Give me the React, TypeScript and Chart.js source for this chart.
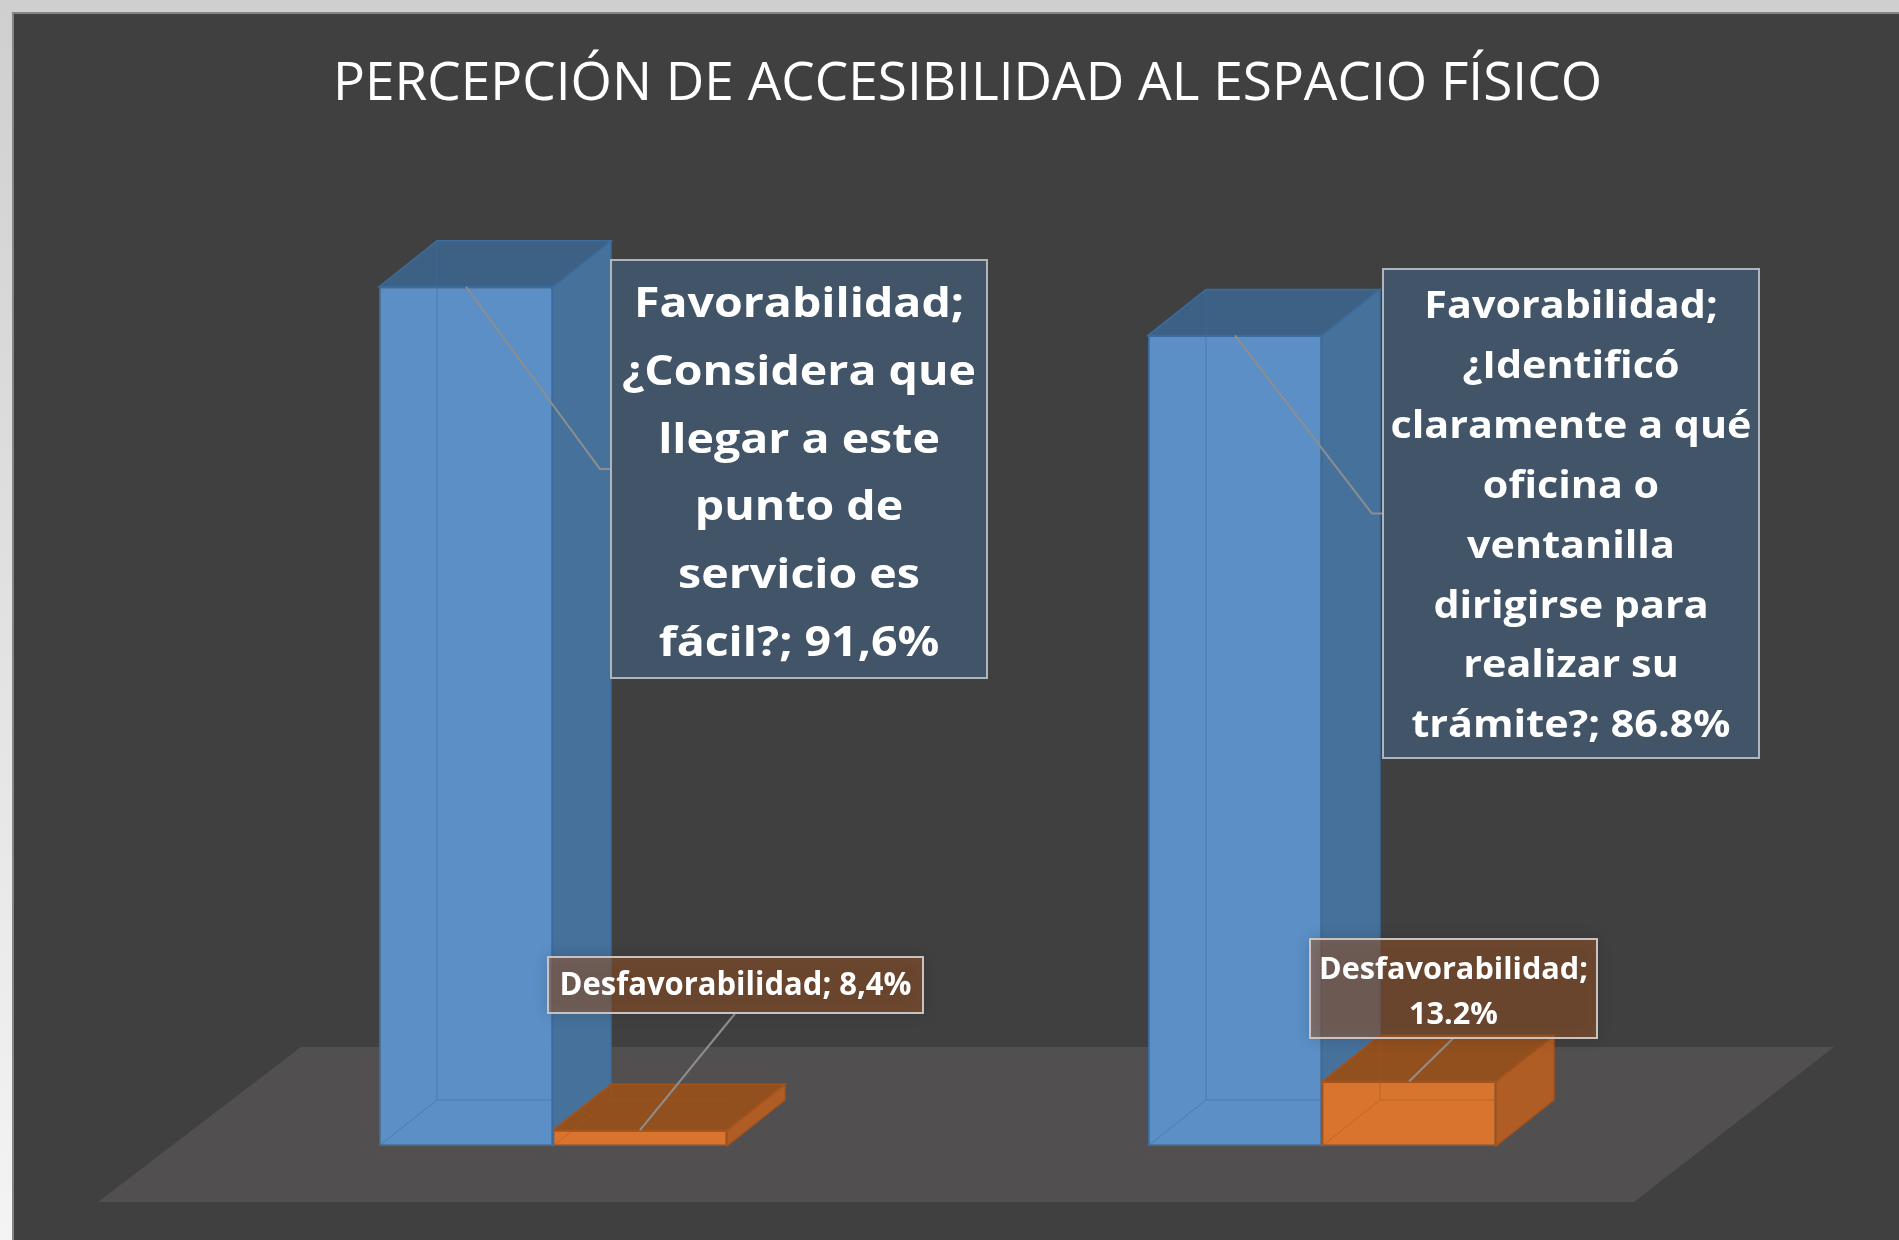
import React, { useEffect, useRef } from "react";
import { Chart, registerables } from "chart.js";

Chart.register(...registerables);

// ---------- data ----------
const TITLE = "PERCEPCIÓN DE ACCESIBILIDAD AL ESPACIO FÍSICO";
const CATEGORIES = [
  "¿Considera que llegar a este punto de servicio es fácil?",
  "¿Identificó claramente a qué oficina o ventanilla dirigirse para realizar su trámite?",
];
const SERIES = ["Favorabilidad", "Desfavorabilidad"];
const FAVORABILIDAD = [91.6, 86.8];
const DESFAVORABILIDAD = [8.4, 13.2];
const FAVOR_LABELS = [
  ["Favorabilidad;", "¿Considera que", "llegar a este", "punto de", "servicio es", "fácil?; 91,6%"],
  ["Favorabilidad;", "¿Identificó", "claramente a qué", "oficina o", "ventanilla", "dirigirse para", "realizar su", "trámite?; 86.8%"],
];
const DESFAVOR_LABELS = [["Desfavorabilidad; 8,4%"], ["Desfavorabilidad;", "13.2%"]];
const Y_MIN = 6.84;
const Y_MAX = 100;

// ---------- layout / style ----------
const W = 1899;
const H = 1240;
const DEPTH_X = 58 / 174;
const DEPTH_Y = 46 / 174;

const FACE = [
  { front: "#5b8fc5", side: "#46719b", top: "#3d6184", edge: "#3b6c9d", hidden: "rgba(60,110,160,0.55)" },
  { front: "#d9742f", side: "#b05d25", top: "#93501f", edge: "#a4531c", hidden: "rgba(170,85,30,0.5)" },
];

type BoxSpec = {
  x: number; y: number; w: number; h: number;
  first: number; step: number; size: number; target: number;
  fill: string; border: string; kind: "side" | "below";
};

const BOXES: BoxSpec[][] = [
  [
    { x: 611, y: 260, w: 376, h: 418, first: 317, step: 67.8, size: 42, target: 354, fill: "#425467", border: "#aeb5bd", kind: "side" },
    { x: 1383, y: 269, w: 376, h: 489, first: 318, step: 59.9, size: 38, target: 361, fill: "#425467", border: "#aeb5bd", kind: "side" },
  ],
  [
    { x: 548, y: 957, w: 375, h: 56, first: 995, step: 45, size: 32, target: 352, fill: "rgba(158,86,38,0.5)", border: "#c9c2be", kind: "below" },
    { x: 1310, y: 939, w: 287, h: 99, first: 979, step: 45, size: 31, target: 269, fill: "rgba(158,86,38,0.5)", border: "#c9c2be", kind: "below" },
  ],
];

const FONT = '"Open Sans", "Noto Sans", "DejaVu Sans", sans-serif';

function poly(ctx: CanvasRenderingContext2D, pts: number[][], fill: string, stroke?: string) {
  ctx.beginPath();
  ctx.moveTo(pts[0][0], pts[0][1]);
  for (let i = 1; i < pts.length; i++) ctx.lineTo(pts[i][0], pts[i][1]);
  ctx.closePath();
  ctx.fillStyle = fill;
  ctx.fill();
  if (stroke) {
    ctx.strokeStyle = stroke;
    ctx.lineWidth = 1.5;
    ctx.stroke();
  }
}

function barGeom(chart: any, d: number, i: number) {
  const el = chart.getDatasetMeta(d).data[i];
  const p = el.getProps(["x", "y", "base", "width"], true);
  const l = p.x - p.width / 2;
  const r = p.x + p.width / 2;
  const base = Math.min(p.base, chart.chartArea.bottom);
  return { l, r, x: p.x, y: p.y, base, dx: p.width * DEPTH_X, dy: p.width * DEPTH_Y };
}

const backgroundPlugin = {
  id: "bg",
  beforeDraw(chart: any) {
    const ctx: CanvasRenderingContext2D = chart.ctx;
    ctx.save();
    const g = ctx.createLinearGradient(0, 0, 0, H);
    g.addColorStop(0, "#cfcfcf");
    g.addColorStop(1, "#f4f4f4");
    ctx.fillStyle = g;
    ctx.fillRect(0, 0, W, H);
    ctx.fillStyle = "#404040";
    ctx.fillRect(12, 12, W - 12, H - 12);
    ctx.strokeStyle = "#858585";
    ctx.lineWidth = 2;
    ctx.beginPath();
    ctx.moveTo(13, H);
    ctx.lineTo(13, 13);
    ctx.lineTo(W, 13);
    ctx.stroke();

    // floor
    poly(ctx, [[301, 1047], [1834, 1047], [1634, 1202], [98, 1202]], "#514f50");

    // title
    ctx.fillStyle = "#ffffff";
    ctx.font = `400 53px ${FONT}`;
    const tw = ctx.measureText(TITLE).width;
    const sx = 1269 / tw;
    ctx.translate(967.5, 100);
    ctx.scale(sx, 1);
    ctx.textAlign = "center";
    ctx.textBaseline = "alphabetic";
    ctx.fillText(TITLE, 0, 0);
    ctx.restore();
  },
};

const box3dPlugin = {
  id: "box3d",
  beforeDatasetsDraw(chart: any) {
    const ctx: CanvasRenderingContext2D = chart.ctx;
    ctx.save();
    const n = chart.data.labels.length;
    for (let i = 0; i < n; i++) {
      for (let d = 0; d < chart.data.datasets.length; d++) {
        const g = barGeom(chart, d, i);
        const c = FACE[d];
        // side face
        poly(ctx, [[g.r, g.y], [g.r + g.dx, g.y - g.dy], [g.r + g.dx, g.base - g.dy], [g.r, g.base]], c.side, c.edge);
        // top face
        poly(ctx, [[g.l, g.y], [g.l + g.dx, g.y - g.dy], [g.r + g.dx, g.y - g.dy], [g.r, g.y]], c.top, c.edge);
      }
    }
    ctx.restore();
  },
  afterDatasetsDraw(chart: any) {
    const ctx: CanvasRenderingContext2D = chart.ctx;
    ctx.save();
    const n = chart.data.labels.length;
    for (let i = 0; i < n; i++) {
      for (let d = 0; d < chart.data.datasets.length; d++) {
        const g = barGeom(chart, d, i);
        const c = FACE[d];
        ctx.strokeStyle = c.hidden;
        ctx.lineWidth = 1;
        ctx.beginPath();
        ctx.moveTo(g.l + g.dx, g.y - g.dy);
        ctx.lineTo(g.l + g.dx, g.base - g.dy);
        ctx.lineTo(g.r, g.base - g.dy);
        ctx.moveTo(g.l, g.base);
        ctx.lineTo(g.l + g.dx, g.base - g.dy);
        ctx.stroke();
      }
    }
    ctx.restore();
  },
};

const labelPlugin = {
  id: "callouts",
  afterDraw(chart: any) {
    const ctx: CanvasRenderingContext2D = chart.ctx;
    const labelSets = [FAVOR_LABELS, DESFAVOR_LABELS];
    for (let d = 0; d < labelSets.length; d++) {
      for (let i = 0; i < labelSets[d].length; i++) {
        const b = BOXES[d][i];
        const lines = labelSets[d][i];
        const g = barGeom(chart, d, i);
        ctx.save();
        // leader line
        ctx.strokeStyle = "#8e8e8e";
        ctx.lineWidth = 2;
        ctx.beginPath();
        if (b.kind === "side") {
          const my = b.y + b.h / 2;
          ctx.moveTo(g.x, g.y);
          ctx.lineTo(b.x - 11, my);
          ctx.lineTo(b.x, my);
        } else {
          ctx.moveTo(b.x + b.w / 2, b.y + b.h);
          ctx.lineTo(g.x, g.y);
        }
        ctx.stroke();
        // box
        if (b.kind === "below") {
          ctx.shadowColor = "rgba(0,0,0,0.35)";
          ctx.shadowBlur = 14;
        }
        ctx.fillStyle = b.fill;
        ctx.fillRect(b.x, b.y, b.w, b.h);
        ctx.shadowColor = "transparent";
        ctx.shadowBlur = 0;
        ctx.strokeStyle = b.border;
        ctx.lineWidth = 2;
        ctx.strokeRect(b.x, b.y, b.w, b.h);
        // text
        ctx.fillStyle = "#ffffff";
        ctx.font = `700 ${b.size}px ${FONT}`;
        let maxW = 0;
        for (const t of lines) maxW = Math.max(maxW, ctx.measureText(t).width);
        const sx = Math.max(0.7, Math.min(1.4, b.target / maxW));
        ctx.textAlign = "center";
        ctx.textBaseline = "alphabetic";
        const cx = b.x + b.w / 2;
        lines.forEach((t, k) => {
          ctx.save();
          ctx.translate(cx, b.first + k * b.step);
          ctx.scale(sx, 1);
          ctx.fillText(t, 0, 0);
          ctx.restore();
        });
        ctx.restore();
      }
    }
  },
};

export default function App() {
  const ref = useRef<HTMLCanvasElement>(null);
  useEffect(() => {
    document.body.style.margin = "0";
    const canvas = ref.current!;
    const chart = new Chart(canvas, {
      type: "bar",
      data: {
        labels: CATEGORIES,
        datasets: [
          {
            label: SERIES[0],
            data: FAVORABILIDAD,
            base: Y_MIN,
            backgroundColor: FACE[0].front,
            borderColor: FACE[0].edge,
            borderWidth: 1.5,
            borderSkipped: false,
          },
          {
            label: SERIES[1],
            data: DESFAVORABILIDAD,
            base: Y_MIN,
            backgroundColor: FACE[1].front,
            borderColor: FACE[1].edge,
            borderWidth: 1.5,
            borderSkipped: false,
          },
        ],
      },
      options: {
        responsive: false,
        animation: false,
        layout: { padding: { left: 168.5, right: 192.5, top: 201.6, bottom: 94 } },
        datasets: { bar: { categoryPercentage: 0.4525, barPercentage: 1 } },
        plugins: {
          legend: { display: false },
          tooltip: { enabled: false },
          title: { display: false },
        },
        scales: {
          x: { display: false },
          y: { display: false, min: Y_MIN, max: Y_MAX },
        },
      },
      plugins: [backgroundPlugin, box3dPlugin, labelPlugin],
    } as any);
    return () => chart.destroy();
  }, []);
  return <canvas ref={ref} width={W} height={H} style={{ display: "block", width: W, height: H }} />;
}
